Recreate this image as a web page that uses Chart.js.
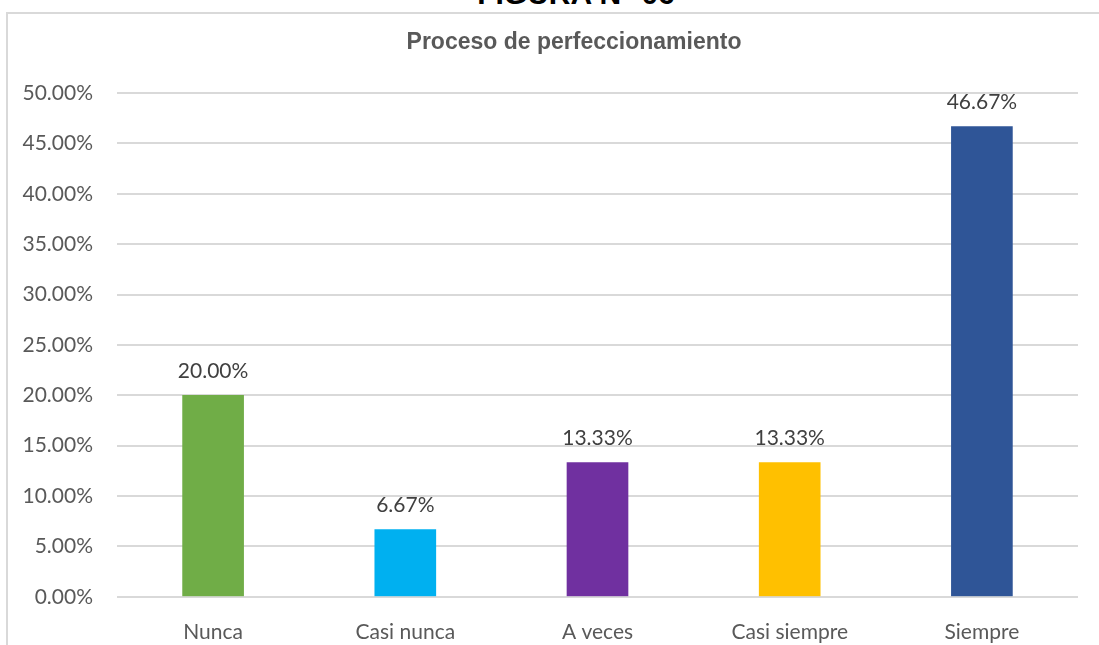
<!DOCTYPE html>
<html lang="es">
<head>
    <meta charset="UTF-8">
    <title>Proceso de perfeccionamiento</title>
    <script src="https://cdn.jsdelivr.net/npm/chart.js"></script>
    <style>
        html, body { margin: 0; padding: 0; background: #fff; overflow: hidden; }
        #figura {
            position: absolute; left: 376px; top: -21px; width: 400px;
            text-align: center; font: bold 30px "Liberation Sans", Arial, sans-serif;
            line-height: 30px; color: #000;
        }
        #marco {
            position: absolute; left: 6px; top: 12px; width: 1200px; height: 700px;
            border-left: 2px solid #d9d9d9; border-top: 2px solid #d9d9d9;
        }
        /* el área del gráfico continúa por debajo del borde de la ventana */
        #wrap { position: absolute; left: 0; top: 0; width: 1099px; height: 671px; }
    </style>
</head>
<body>
    <div id="figura">FIGURA N° 06</div>
    <div id="marco"></div>
    <div id="wrap"><canvas id="grafico"></canvas></div>

    <script>
        // Datos del gráfico
        const titulo = 'Proceso de perfeccionamiento';
        const categorias = ['Nunca', 'Casi nunca', 'A veces', 'Casi siempre', 'Siempre'];
        const porcentajes = [20.00, 6.67, 13.33, 13.33, 46.67];
        const colores = ['#70ad47', '#00b0f0', '#7030a0', '#ffc000', '#2f5597'];

        const fuente = 'Lato, "Open Sans", sans-serif';

        // Título y etiquetas encima de las barras
        const etiquetasPlugin = {
            id: 'etiquetas',
            afterDatasetsDraw(chart) {
                const ctx = chart.ctx;
                const meta = chart.getDatasetMeta(0);
                ctx.save();
                ctx.textAlign = 'center';

                // título del gráfico (el marco original es más ancho que la ventana)
                ctx.font = 'bold 23px "Liberation Sans", Arial, sans-serif';
                ctx.fillStyle = '#595959';
                ctx.textBaseline = 'middle';
                ctx.fillText(titulo, 574, 43);

                ctx.font = '21px ' + fuente;
                ctx.fillStyle = '#404040';
                ctx.textBaseline = 'bottom';
                meta.data.forEach((bar, i) => {
                    ctx.fillText(porcentajes[i].toFixed(2) + '%', bar.x, bar.y - 14);
                });
                ctx.restore();
            }
        };

        const ctx = document.getElementById('grafico').getContext('2d');
        new Chart(ctx, {
            type: 'bar',
            data: {
                labels: categorias,
                datasets: [{
                    data: porcentajes,
                    backgroundColor: colores,
                    barThickness: 61
                }]
            },
            options: {
                responsive: true,
                maintainAspectRatio: false,
                animation: false,
                layout: { padding: { left: 0, right: 21, top: 93, bottom: 3 } },
                plugins: {
                    legend: { display: false },
                    tooltip: { enabled: false },
                    title: { display: false }
                },
                scales: {
                    x: {
                        grid: { display: false, drawTicks: false },
                        border: { display: false },
                        ticks: {
                            color: '#595959',
                            font: { family: fuente, size: 21 },
                            padding: 23
                        }
                    },
                    y: {
                        min: 0,
                        max: 50,
                        afterFit(scale) { scale.width = 117; },
                        grid: { color: '#d9d9d9', lineWidth: 2, drawTicks: false },
                        border: { display: false },
                        ticks: {
                            stepSize: 5,
                            color: '#595959',
                            font: { family: fuente, size: 21 },
                            padding: 24,
                            callback: v => v.toFixed(2) + '%'
                        }
                    }
                }
            },
            plugins: [etiquetasPlugin]
        });
    </script>
</body>
</html>
